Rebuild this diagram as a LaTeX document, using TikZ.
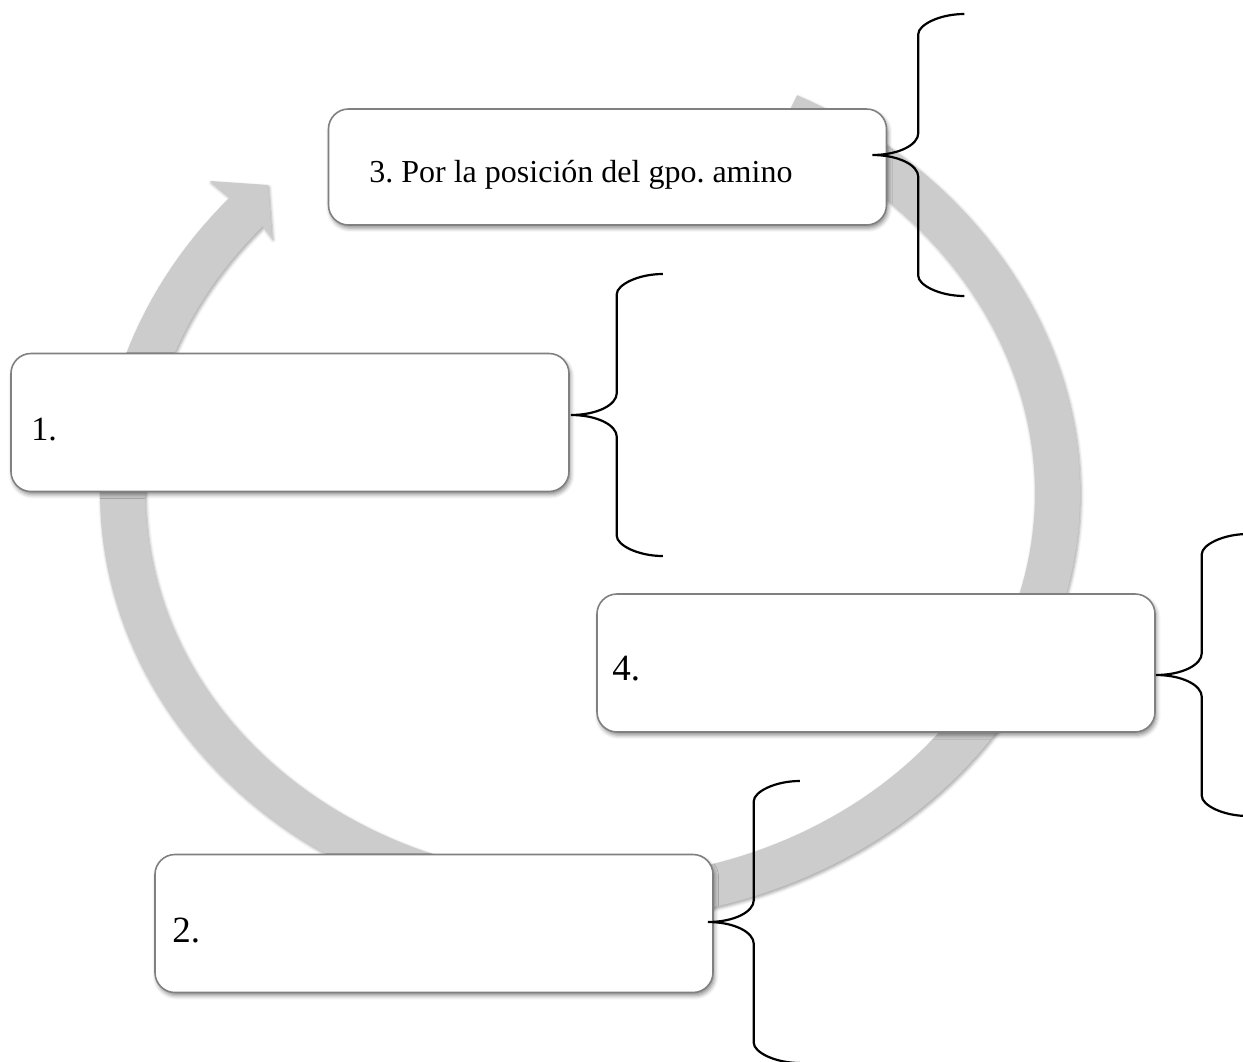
\documentclass[tikz,border=0pt]{standalone}
\usepackage{fontspec}
\setmainfont{Liberation Serif}
\usetikzlibrary{shadows.blur}
\definecolor{ringgray}{RGB}{204,204,204}
\definecolor{boxedge}{RGB}{128,128,128}
\frenchspacing
\begin{document}
\begin{tikzpicture}[x=0.5pt,y=-0.5pt,
  box/.style={draw=boxedge, line width=0.8pt, fill=white, rounded corners=10pt,
    minimum width=279pt, minimum height=69pt, inner sep=0pt,
    blur shadow={shadow xshift=0.8pt, shadow yshift=-1.6pt,
      shadow blur radius=2pt, shadow opacity=45}},
  txt/.style={anchor=base west, inner sep=0pt, font=\fontsize{16}{19}\selectfont},
  midtxt/.style={txt, font=\fontsize{17}{20}\selectfont},
  bigtxt/.style={txt, font=\fontsize{18.5}{22}\selectfont},
  bracestroke/.style={line width=1.1pt, black},
  cbrace/.pic={
    \draw[bracestroke] (92,-141) .. controls (67,-141) and (46,-130) .. (46,-121)
      -- (46,-22) .. controls (46,-10) and (26,0) .. (0,0)
      .. controls (26,0) and (46,10) .. (46,22)
      -- (46,121) .. controls (46,130) and (67,141) .. (92,141);
  },
]
\useasboundingbox (0,0) rectangle (1243,1061);

% circular arrow: tail at the top right, head at the top left;
% the upper half is stretched a little higher than the lower half
\fill[ringgray, blur shadow={shadow xshift=0.6pt, shadow yshift=-1pt,
      shadow blur radius=1.5pt, shadow opacity=35}]
  plot[domain=65:-222.7, samples=180]
    ({590+490*cos(\x)},{493-(428+12*max(sin(\x),0))*sin(\x)})
  -- (210,181) -- (268,185) -- (272,238)
  -- plot[domain=-222.7:65, samples=180]
    ({590+445*cos(\x)},{493-(386+11*max(sin(\x),0))*sin(\x)})
  -- cycle;

% boxes
\node[box, minimum height=58pt] (b3) at (607.5,167) {};
\node[box] (b1) at (290,422.5) {};
\node[box] (b4) at (876,663) {};
\node[box] (b2) at (434,923.5) {};

% labels
\node[txt] (t3) at (369,182) {3. Por la posición del gpo. amino};
\node[midtxt] (t1) at (31,440) {1.};
\node[bigtxt] (t2) at (172,942) {2.};
\node[bigtxt] (t4) at (612,680) {4.};

% braces opening to the right of each box
\pic at ([shift={(-15,-12)}]b3.east) {cbrace};
\pic at ([shift={(1,-7.5)}]b1.east) {cbrace};
\pic at ([shift={(0,12)}]b4.east) {cbrace};
\pic at ([shift={(-6,-1.5)}]b2.east) {cbrace};
\end{tikzpicture}
\end{document}
